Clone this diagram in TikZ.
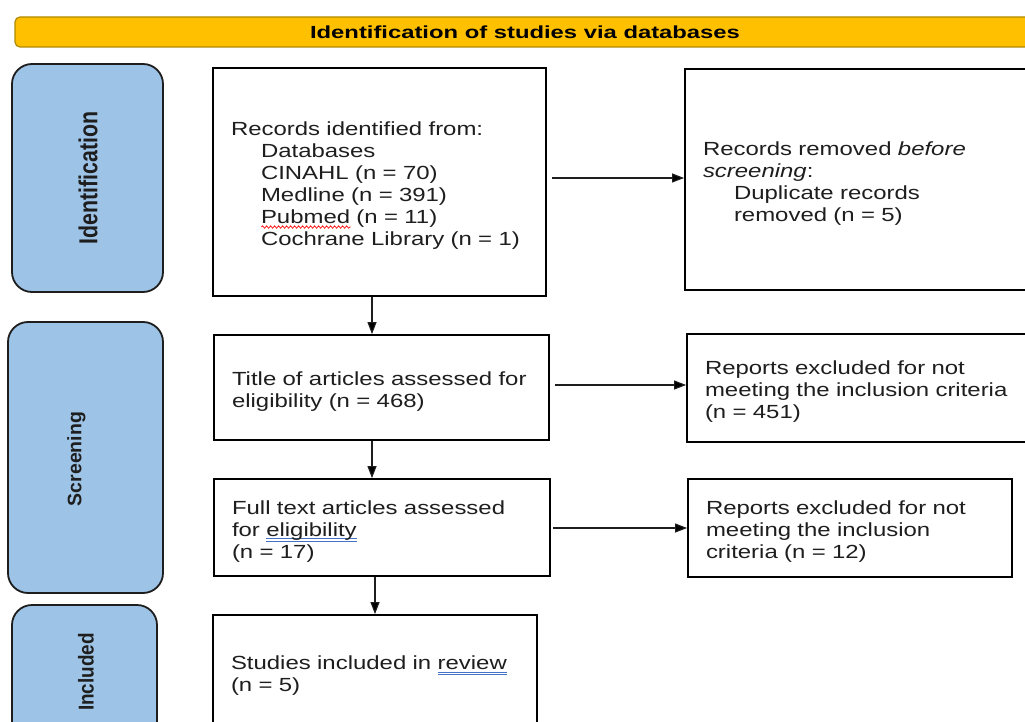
\documentclass[tikz,border=0pt]{standalone}
\usepackage{fontspec}
\setmainfont{Liberation Sans}[FakeStretch=1.26]
\newfontfamily\plainfont{Liberation Sans}
\usetikzlibrary{arrows.meta,calc,decorations.pathmorphing}
\definecolor{hdrfill}{HTML}{FFC000}
\definecolor{hdrline}{HTML}{B08A00}
\definecolor{sidefill}{HTML}{9DC3E6}
\definecolor{ink}{HTML}{1E1E1E}
\definecolor{ulblue}{HTML}{4472C4}
\newlength\myulw
\newcommand\tstrut{\rule{0pt}{21pt}}
\newcommand\bluedbl[1]{\settowidth\myulw{#1}%
  \rlap{\textcolor{ulblue}{\rule[-3pt]{\myulw}{0.7pt}}}%
  \rlap{\textcolor{ulblue}{\rule[-5.5pt]{\myulw}{0.7pt}}}#1}
\newcommand\redwave[1]{\settowidth\myulw{#1}%
  \rlap{\raisebox{-3.5pt}{\tikz[x=1pt,y=1pt,baseline=0pt]\draw[red,line width=0.7pt,decorate,
     decoration={snake,amplitude=1.2pt,segment length=4pt}] (0pt,0pt) -- (\myulw,0pt);}}#1}
\tikzset{
  flowbox/.style={draw=black, line width=1.8pt, fill=white, align=left,
    inner xsep=18pt, inner ysep=0pt, text=ink,
    font=\fontsize{19}{22}\selectfont},
  sidebox/.style={draw=ink, line width=1.8pt, fill=sidefill, rounded corners=20pt},
  sidelabel/.style={rotate=90, text=ink, inner sep=0pt},
  arr/.style={draw=ink, line width=1.1pt, -{Triangle[length=12pt,width=9pt]}}
}
\begin{document}
\begin{tikzpicture}[x=1pt,y=-1pt]
\useasboundingbox (0,0) rectangle (1025,722);
\clip (0,0) rectangle (1025,722);
\fill[white] (0,0) rectangle (1025,722);

% header
\node[draw=hdrline, line width=1.2pt, fill=hdrfill, rounded corners=5pt,
      minimum width=1020pt, minimum height=30pt, inner sep=0pt] (hdr) at (525,32)
  {\scalebox{1.36}[1]{\plainfont\bfseries\fontsize{17.5}{17.5}\selectfont Identification of studies via databases}};

% side phase boxes
\node[sidebox, minimum width=151pt, minimum height=228pt] (sI) at (87.5,178) {};
\node[sidebox, minimum width=155pt, minimum height=271pt] (sS) at (85.5,457.5) {};
\node[sidebox, minimum width=145pt, minimum height=140pt] (sN) at (84.5,675) {};
\node[sidelabel] (lI) at (88,178) {\scalebox{0.82}[1]{\plainfont\bfseries\fontsize{26}{26}\selectfont Identification}};
\node[sidelabel] (lS) at (76.5,459) {\scalebox{1.0}[1]{\plainfont\bfseries\fontsize{19.5}{19.5}\selectfont Screening}};
\node[sidelabel] (lN) at (86,672) {\scalebox{0.88}[1]{\plainfont\bfseries\fontsize{21.5}{21.5}\selectfont Included}};

% flow boxes
\node[flowbox, text width=297pt, minimum height=228pt] (B1) at (379.5,182)
  {\tstrut Records identified from:\\
   \hspace*{30pt}Databases\\
   \hspace*{30pt}CINAHL (n = 70)\\
   \hspace*{30pt}Medline (n = 391)\\
   \hspace*{30pt}\redwave{Pubmed} (n = 11)\\
   \hspace*{30pt}Cochrane Library (n = 1)};
\node[flowbox, text width=324pt, minimum height=221pt] (B2) at (865,179.5)
  {\tstrut Records removed \textit{before}\\
   \textit{screening}:\\
   \hspace*{31pt}Duplicate records\\
   \hspace*{31pt}removed (n = 5)};
\node[flowbox, text width=299pt, minimum height=105pt] (B3) at (381.5,387.5)
  {\tstrut Title of articles assessed for\\
   eligibility (n = 468)};
\node[flowbox, text width=317pt, minimum height=108pt] (B4) at (863.5,388)
  {\tstrut Reports excluded for not\\
   meeting the inclusion criteria\\
   (n = 451)};
\node[flowbox, text width=300pt, minimum height=97pt] (B5) at (382,527.5)
  {\tstrut Full text articles assessed\\
   for \bluedbl{eligibility}\\
   (n = 17)};
\node[flowbox, text width=288pt, minimum height=98pt] (B6) at (850,528)
  {\tstrut Reports excluded for not\\
   meeting the inclusion\\
   criteria (n = 12)};
\node[flowbox, text width=288pt, minimum height=114pt] (B7) at (375,672)
  {\tstrut Studies included in \bluedbl{review}\\
   (n = 5)};

% connectors
\draw[arr, shorten <=5pt] (B1.east |- 0,178) -- (B2.west |- 0,178);
\draw[arr, shorten <=5pt] (B3.east |- 0,385) -- (B4.west |- 0,385);
\draw[arr, shorten <=2pt] (B5.east |- 0,528) -- (B6.west |- 0,528);
\draw[arr] (B1.south -| 372,0) -- (B3.north -| 372,0);
\draw[arr] (B3.south -| 372,0) -- (B5.north -| 372,0);
\draw[arr] (B5.south -| 375,0) -- (B7.north -| 375,0);
\end{tikzpicture}
\end{document}
